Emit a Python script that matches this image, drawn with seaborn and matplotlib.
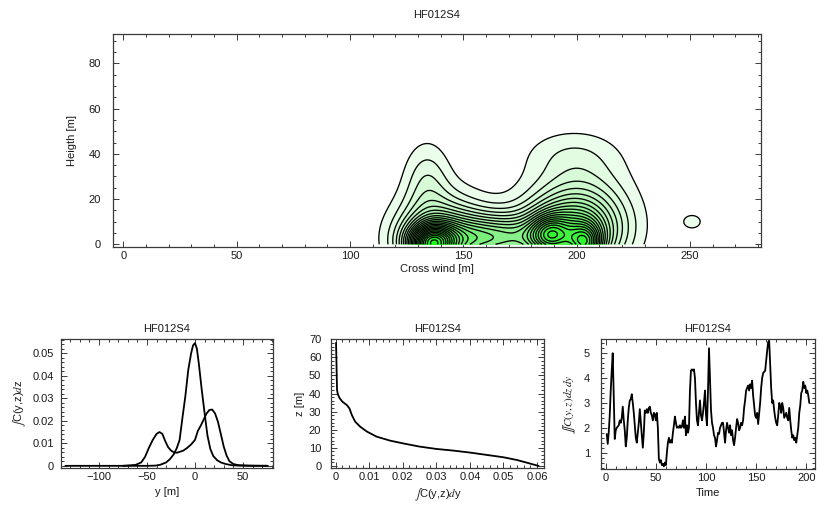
import numpy as np
import matplotlib
matplotlib.use("Agg")
import matplotlib.pyplot as plt
import seaborn as sns
from matplotlib.colors import LinearSegmentedColormap
from matplotlib.ticker import MultipleLocator, FuncFormatter

sns.set_theme(style="white")
plt.rcParams["font.family"] = ["Liberation Sans", "DejaVu Sans"]
plt.rcParams["mathtext.fontset"] = "stix"

TITLE = "HF012S4"

# --- concentration field in the cross-wind / height plane (plume components) ---
blob_x = [136, 140, 134, 163, 175, 204, 188, 198, 202, 198, 251]
blob_z = [0, 3, 28, 3, 10, 0, 4, 5, 18, 40, 10]
blob_sx = [7, 13, 7, 16, 35, 5, 6, 14, 15, 15, 4.2]
blob_sz = [6, 12, 12, 7, 18, 6, 6, 11, 14, 8, 3.2]
blob_amp = [0.60, 0.30, 0.10, 0.35, 0.01, 0.35, 0.30, 0.40, 0.12, 0.055, 0.055]

# --- lateral profiles, integrated over height ---
lat_y = [-135, -100, -75, -62, -56, -52, -48, -44, -40, -37, -34, -31, -28, -25,
         -22, -19, -16, -12, -8, -4, 0, 3, 6, 9, 12, 15, 18, 21, 24, 27, 30, 33,
         36, 40, 45, 55, 76]
lat_v = [0, 0, 0, 0.0004, 0.0015, 0.004, 0.008, 0.0115, 0.0142, 0.015, 0.0142,
         0.011, 0.0083, 0.0068, 0.006, 0.0058, 0.0062, 0.0068, 0.008, 0.0095,
         0.0115, 0.0155, 0.0178, 0.0205, 0.0232, 0.0248, 0.025, 0.0232, 0.0195,
         0.014, 0.0085, 0.0045, 0.002, 0.0008, 0.0003, 0.0001, 0]
tall_y = [-75, -50, -41, -36, -30, -26, -22, -19, -16, -13, -10, -7, -4, -2, 0, 2,
          4, 7, 10, 13, 16, 19, 23, 27, 32, 38, 45, 60, 75]
tall_v = [0, 0, 0.0001, 0.0005, 0.0015, 0.003, 0.0052, 0.0078, 0.0115, 0.0215,
          0.031, 0.0426, 0.05, 0.0535, 0.0545, 0.052, 0.0455, 0.034, 0.0235,
          0.0135, 0.0075, 0.0044, 0.0025, 0.0015, 0.0008, 0.0003, 0.0001, 0, 0]

# --- vertical profile, integrated cross wind ---
prof_z = [68, 60, 50, 42, 40, 38.5, 37.4, 35.5, 33.7, 31.8, 28.2, 24.5, 21.7, 19,
          16.2, 14, 12.5, 10.7, 9.4, 8.5, 7.4, 6.1, 4.8, 3.3, 1.8, 0]
prof_c = [0.0001, 0.0002, 0.0003, 0.0004, 0.0006, 0.0009, 0.0012, 0.002, 0.0033,
          0.0041, 0.0048, 0.0058, 0.0073, 0.0093, 0.0122, 0.0162, 0.020, 0.025,
          0.030, 0.035, 0.040, 0.045, 0.050, 0.054, 0.057, 0.0605]

# --- total flux through the section over time ---
flux = [1.75, 1.35, 1.8, 2.5, 3.5, 4.3, 5.0, 3.2, 1.55, 1.9,
        2.0, 2.05, 2.1, 2.3, 2.2, 2.4, 2.85, 2.3, 1.9, 1.25,
        1.6, 2.3, 2.8, 3.1, 3.15, 3.35, 3.0, 2.6, 2.1, 1.6,
        1.4, 1.8, 2.2, 2.75, 2.2, 1.7, 1.2, 1.8, 2.7, 2.6,
        2.75, 2.6, 2.8, 2.85, 2.6, 2.5, 2.3, 2.6, 2.55, 2.3,
        2.6, 2.0, 0.75, 0.6, 0.7, 0.5, 0.55, 0.45, 0.6, 0.5,
        1.0, 1.4, 1.6, 1.4, 1.5, 1.4, 1.8, 2.1, 2.45, 2.2,
        2.0, 2.05, 2.0, 2.1, 2.0, 2.05, 2.3, 2.0, 2.45, 1.7,
        2.1, 1.8, 2.0, 3.5, 4.3, 4.35, 4.3, 4.35, 4.0, 3.0,
        2.3, 2.1, 2.6, 3.1, 2.5, 2.3, 2.6, 3.0, 3.5, 2.5,
        2.1, 3.5, 5.2, 4.0, 2.7, 2.2, 2.0, 1.7, 1.6, 1.25,
        1.5, 1.8, 1.75, 2.0, 2.1, 2.2, 2.2, 1.8, 1.4, 1.9,
        2.2, 2.0, 1.8, 2.1, 1.7, 1.9, 1.5, 1.3, 1.6, 2.0,
        2.35, 2.2, 1.9, 2.0, 2.2, 2.1, 2.3, 2.8, 3.1, 3.5,
        3.6, 3.7, 3.5, 3.75, 3.6, 3.9, 3.3, 2.9, 2.5, 2.4,
        2.6, 2.15, 2.6, 3.0, 3.6, 4.0, 4.2, 4.25, 4.3, 4.7,
        5.1, 5.45, 5.5, 4.5, 3.6, 3.0, 3.1, 2.7, 2.4, 2.2,
        2.1, 2.5, 3.0, 2.9, 2.6, 3.0, 2.8, 2.4, 2.5, 2.6,
        2.4, 2.3, 2.8, 2.3, 1.9, 1.6, 1.7, 1.5, 1.6, 1.4,
        1.7, 2.0, 2.6, 2.9, 3.4, 3.5, 3.85, 3.6, 3.7, 3.4,
        3.5, 3.3, 3.0]
time_steps = list(range(1, len(flux) + 1))

contour_levels = [0.04 * k for k in range(1, 25)]

# ------------------------------------------------------------------------
W, H = 823, 509
fig = plt.figure(figsize=(W / 100, H / 100), dpi=100)

FRAME = "#3a3a3a"
TXT = "#1a1a1a"
FS = 8


def px_axes(left, top, right, bottom):
    return fig.add_axes([left / W, 1 - bottom / H, (right - left) / W, (bottom - top) / H])


def fmt(v, pos):
    s = f"{v:g}"
    if s in ("-0", "0.0"):
        s = "0"
    return s.replace("-", "\u2212")


def style(ax, xmaj, xmin, ymaj, ymin, ypad=4):
    for sp in ax.spines.values():
        sp.set_color(FRAME)
        sp.set_linewidth(0.9)
        sp.set_visible(True)
    ax.xaxis.set_major_locator(MultipleLocator(xmaj))
    ax.xaxis.set_minor_locator(MultipleLocator(xmin))
    ax.yaxis.set_major_locator(MultipleLocator(ymaj))
    ax.yaxis.set_minor_locator(MultipleLocator(ymin))
    ax.xaxis.set_major_formatter(FuncFormatter(fmt))
    ax.yaxis.set_major_formatter(FuncFormatter(fmt))
    ax.tick_params(which="both", direction="in", top=True, right=True,
                   bottom=True, left=True, color=FRAME, width=0.7,
                   labelsize=FS, labelcolor=TXT)
    ax.tick_params(which="major", length=4)
    ax.tick_params(which="minor", length=2)
    ax.tick_params(axis="x", pad=3)
    ax.tick_params(axis="y", pad=ypad)
    ax.set_facecolor("white")
    ax.grid(False)


# top: cross-section contour map
ax0 = px_axes(113.3, 34.3, 760.7, 246.7)
gx = np.arange(100, 266, 0.5)
gz = np.arange(0, 70.5, 0.5)
GX, GZ = np.meshgrid(gx, gz)
field = np.zeros_like(GX)
for bx, bz, sx, sz, a in zip(blob_x, blob_z, blob_sx, blob_sz, blob_amp):
    field += a * np.exp(-0.5 * ((GX - bx) / sx) ** 2 - 0.5 * ((GZ - bz) / sz) ** 2)

plume_cmap = LinearSegmentedColormap.from_list(
    "plume", ["#f0fff0", "#b4f3b4", "#6aee6a", "#36f536", "#1aff1a"])
fill_levels = contour_levels + [max(field.max(), contour_levels[-1]) + 0.01]
ax0.contourf(GX, GZ, field, levels=fill_levels, cmap=plume_cmap, extend="max")
ax0.contour(GX, GZ, field, levels=contour_levels, colors="black", linewidths=0.95)
ax0.set_xlim(-4.4, 281.2)
ax0.set_ylim(-1.06, 92.9)
style(ax0, 50, 10, 20, 5, ypad=9)
ax0.set_title(TITLE, fontsize=FS, color=TXT, pad=12)
ax0.set_xlabel("Cross wind [m]", fontsize=FS, color=TXT, labelpad=2)
ax0.set_ylabel("Heigth [m]", fontsize=FS, color=TXT, labelpad=8)

# bottom left: lateral profiles
ax1 = px_axes(61, 339.3, 272.7, 468.3)
sns.lineplot(x=lat_y, y=lat_v, ax=ax1, color="black", linewidth=1.3)
sns.lineplot(x=tall_y, y=tall_v, ax=ax1, color="black", linewidth=1.3)
ax1.set_xlim(-139.6, 81)
ax1.set_ylim(-0.0011, 0.0562)
style(ax1, 50, 10, 0.01, 0.002, ypad=5)
ax1.set_title(TITLE, fontsize=FS, color=TXT, pad=5)
ax1.set_xlabel("y [m]", fontsize=FS, color=TXT, labelpad=3)
ax1.set_ylabel(r"$\int$C(y,z)$d$z", fontsize=FS, color=TXT, labelpad=3)

# bottom middle: vertical profile
ax2 = px_axes(331, 339.3, 544, 468.3)
sns.lineplot(x=prof_c, y=prof_z, ax=ax2, color="black", linewidth=1.3,
             orient="y")
ax2.set_xlim(-0.0014, 0.0621)
ax2.set_ylim(-1.3, 70)
style(ax2, 0.01, 0.002, 10, 2, ypad=7)
ax2.set_title(TITLE, fontsize=FS, color=TXT, pad=5)
ax2.set_xlabel(r"$\int$C(y,z)$d$y", fontsize=FS, color=TXT, labelpad=3)
ax2.set_ylabel("z [m]", fontsize=FS, color=TXT, labelpad=3)

# bottom right: flux time series
ax3 = px_axes(601, 339.3, 815, 469.3)
sns.lineplot(x=time_steps, y=flux, ax=ax3, color="black", linewidth=1.3)
ax3.set_xlim(-4.7, 208.7)
ax3.set_ylim(0.33, 5.56)
style(ax3, 50, 10, 1, 0.2, ypad=8)
ax3.set_title(TITLE, fontsize=FS, color=TXT, pad=5)
ax3.set_xlabel("Time", fontsize=FS, color=TXT, labelpad=3)
ax3.set_ylabel(r"$\int\!\!\int C(y,z)dz\,dy$", fontsize=FS, color=TXT, labelpad=4)

fig.savefig("out.png", dpi=100, facecolor="white")
